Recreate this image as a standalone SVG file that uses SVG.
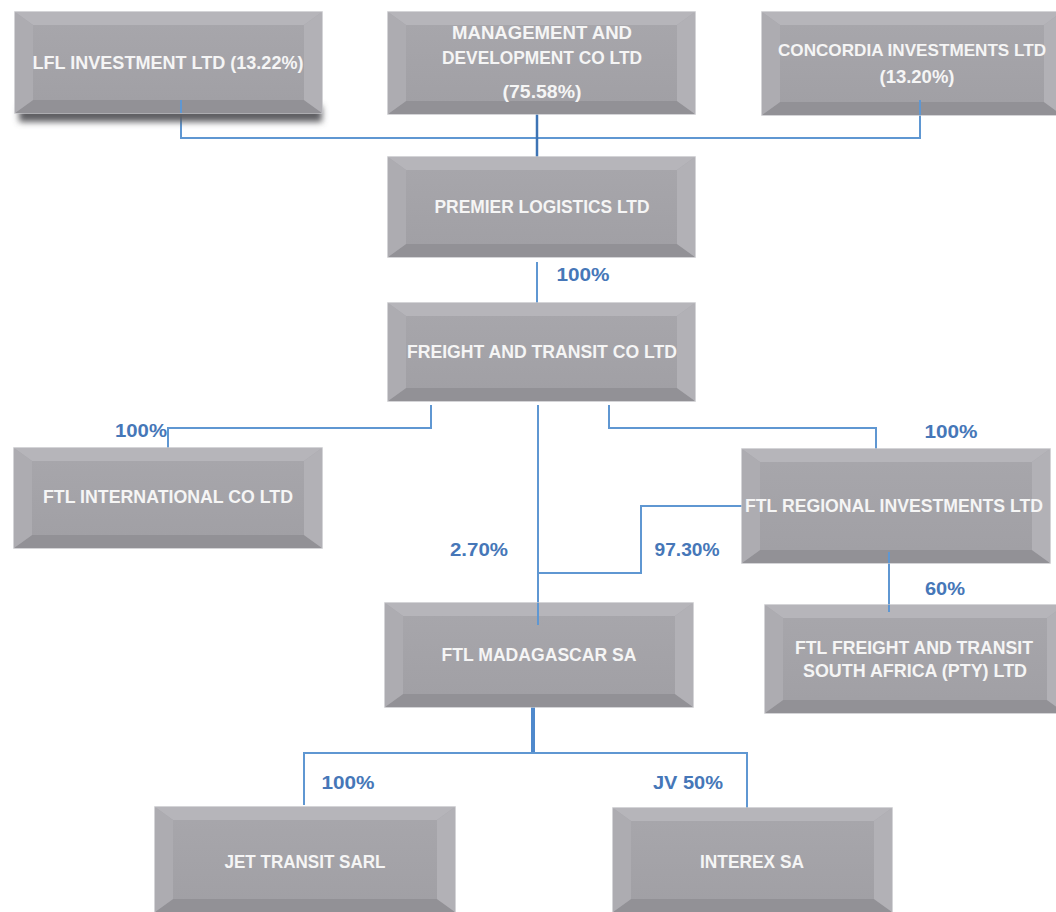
<svg xmlns="http://www.w3.org/2000/svg" width="1056" height="912" viewBox="0 0 1056 912">
<defs>
<filter id="blur" x="-10%" y="-50%" width="120%" height="200%"><feGaussianBlur stdDeviation="3"/></filter>
<linearGradient id="faceg" x1="0" y1="0" x2="0" y2="1">
<stop offset="0" stop-color="#a8a7ac"/>
<stop offset="1" stop-color="#a09fa4"/>
</linearGradient>
</defs>
<style>
.face{fill:url(#faceg);stroke:#c6c6ca;stroke-width:1.5}
.bt{fill:#b6b5ba}
.bl{fill:#adacb1}
.br{fill:#b2b1b6}
.bb{fill:#929196}
.txt{font-family:"Liberation Sans",Arial,sans-serif;font-weight:bold;font-size:18px;fill:#f5f5f5;text-anchor:middle}
.sm{font-size:17px}
.lbl{font-family:"Liberation Sans",Arial,sans-serif;font-weight:bold;font-size:18px;fill:#4677b8;text-anchor:middle}
.ln{fill:none;stroke:#5f97d2;stroke-width:2}
.lnd{fill:none;stroke:#3d74b5;stroke-width:2.5}
.lnt{fill:none;stroke:#4f89cc;stroke-width:4}
</style>
<rect width="1056" height="912" fill="#ffffff"/>

<g id="connectors">
<path class="ln" d="M181,105 V138 H921"/>
<path class="ln" d="M920,106 V138"/>
<path class="lnd" d="M537,114 V158"/>
<path class="ln" d="M537,262 V303"/>
<path class="ln" d="M431,405 V428 H168 V450"/>
<path class="ln" d="M538,405 V625"/>
<path class="ln" d="M609,405 V428 H876 V449"/>
<path class="ln" d="M742,506 H641 V573 H538"/>
<path class="ln" d="M889,552 V612"/>
<path class="lnt" d="M533,707 V753"/>
<path class="ln" d="M304,805 V753 H747 V810"/>
</g>

<g id="n-lfl">
<rect x="19" y="106" width="303" height="16" fill="#5f5e63" filter="url(#blur)"/>
<rect class="face" x="15" y="12" width="307" height="101"/>
<polygon class="bt" points="15,12 322,12 304,25 33,25"/>
<polygon class="bb" points="15,113 322,113 304,100 33,100"/>
<polygon class="bl" points="15,12 33,25 33,100 15,113"/>
<polygon class="br" points="322,12 304,25 304,100 322,113"/>
<path class="ln" d="M181,100 V113"/>
<text class="txt" x="168" y="69" textLength="271" lengthAdjust="spacingAndGlyphs">LFL INVESTMENT LTD (13.22%)</text>
</g>

<g id="n-mgmt">
<rect class="face" x="388" y="12" width="307" height="102"/>
<polygon class="bt" points="388,12 695,12 677,25 406,25"/>
<polygon class="bb" points="388,114 695,114 677,101 406,101"/>
<polygon class="bl" points="388,12 406,25 406,101 388,114"/>
<polygon class="br" points="695,12 677,25 677,101 695,114"/>
<text class="txt" x="542" y="39" textLength="180" lengthAdjust="spacingAndGlyphs">MANAGEMENT AND</text>
<text class="txt" x="542" y="64" textLength="200" lengthAdjust="spacingAndGlyphs">DEVELOPMENT CO LTD</text>
<text class="txt" x="542" y="98" textLength="79" lengthAdjust="spacingAndGlyphs">(75.58%)</text>
</g>

<g id="n-concordia">
<rect class="face" x="762" y="12" width="300" height="103"/>
<polygon class="bt" points="762,12 1062,12 1044,25 780,25"/>
<polygon class="bb" points="762,115 1062,115 1044,102 780,102"/>
<polygon class="bl" points="762,12 780,25 780,102 762,115"/>
<polygon class="br" points="1062,12 1044,25 1044,102 1062,115"/>
<path class="ln" d="M920,100 V115"/>
<text class="txt sm" x="912" y="56" textLength="268" lengthAdjust="spacingAndGlyphs">CONCORDIA INVESTMENTS LTD</text>
<text class="txt" x="917" y="83" textLength="75" lengthAdjust="spacingAndGlyphs">(13.20%)</text>
</g>

<g id="n-premier">
<rect class="face" x="388" y="157" width="307" height="100"/>
<polygon class="bt" points="388,157 695,157 677,170 406,170"/>
<polygon class="bb" points="388,257 695,257 677,244 406,244"/>
<polygon class="bl" points="388,157 406,170 406,244 388,257"/>
<polygon class="br" points="695,157 677,170 677,244 695,257"/>
<text class="txt" x="542" y="213" textLength="215" lengthAdjust="spacingAndGlyphs">PREMIER LOGISTICS LTD</text>
</g>

<g id="n-freight">
<rect class="face" x="388" y="303" width="307" height="98"/>
<polygon class="bt" points="388,303 695,303 677,316 406,316"/>
<polygon class="bb" points="388,401 695,401 677,388 406,388"/>
<polygon class="bl" points="388,303 406,316 406,388 388,401"/>
<polygon class="br" points="695,303 677,316 677,388 695,401"/>
<text class="txt" x="542" y="358" textLength="270" lengthAdjust="spacingAndGlyphs">FREIGHT AND TRANSIT CO LTD</text>
</g>

<g id="n-intl">
<rect class="face" x="14" y="448" width="308" height="100"/>
<polygon class="bt" points="14,448 322,448 304,461 32,461"/>
<polygon class="bb" points="14,548 322,548 304,535 32,535"/>
<polygon class="bl" points="14,448 32,461 32,535 14,548"/>
<polygon class="br" points="322,448 304,461 304,535 322,548"/>
<text class="txt" x="168" y="503" textLength="250" lengthAdjust="spacingAndGlyphs">FTL INTERNATIONAL CO LTD</text>
</g>

<g id="n-regional">
<rect class="face" x="742" y="449" width="308" height="114"/>
<polygon class="bt" points="742,449 1050,449 1032,462 760,462"/>
<polygon class="bb" points="742,563 1050,563 1032,550 760,550"/>
<polygon class="bl" points="742,449 760,462 760,550 742,563"/>
<polygon class="br" points="1050,449 1032,462 1032,550 1050,563"/>
<path class="ln" d="M889,552 V563"/>
<text class="txt" x="894" y="512" textLength="298" lengthAdjust="spacingAndGlyphs">FTL REGIONAL INVESTMENTS LTD</text>
</g>

<g id="n-madagascar">
<rect class="face" x="385" y="603" width="308" height="104"/>
<polygon class="bt" points="385,603 693,603 675,616 403,616"/>
<polygon class="bb" points="385,707 693,707 675,694 403,694"/>
<polygon class="bl" points="385,603 403,616 403,694 385,707"/>
<polygon class="br" points="693,603 675,616 675,694 693,707"/>
<path class="ln" d="M538,603 V625"/>
<text class="txt" x="539" y="661" textLength="195" lengthAdjust="spacingAndGlyphs">FTL MADAGASCAR SA</text>
</g>

<g id="n-southafrica">
<rect class="face" x="765" y="605" width="300" height="108"/>
<polygon class="bt" points="765,605 1065,605 1047,618 783,618"/>
<polygon class="bb" points="765,713 1065,713 1047,700 783,700"/>
<polygon class="bl" points="765,605 783,618 783,700 765,713"/>
<polygon class="br" points="1065,605 1047,618 1047,700 1065,713"/>
<path class="ln" d="M889,605 V612"/>
<text class="txt" x="914" y="654" textLength="238" lengthAdjust="spacingAndGlyphs">FTL FREIGHT AND TRANSIT</text>
<text class="txt" x="915" y="677" textLength="224" lengthAdjust="spacingAndGlyphs">SOUTH AFRICA (PTY) LTD</text>
</g>

<g id="n-jet">
<rect class="face" x="155" y="807" width="300" height="105"/>
<polygon class="bt" points="155,807 455,807 437,820 173,820"/>
<polygon class="bb" points="155,912 455,912 437,899 173,899"/>
<polygon class="bl" points="155,807 173,820 173,899 155,912"/>
<polygon class="br" points="455,807 437,820 437,899 455,912"/>
<text class="txt" x="305" y="868" textLength="161" lengthAdjust="spacingAndGlyphs">JET TRANSIT SARL</text>
</g>

<g id="n-interex">
<rect class="face" x="613" y="808" width="279" height="104"/>
<polygon class="bt" points="613,808 892,808 874,821 631,821"/>
<polygon class="bb" points="613,912 892,912 874,899 631,899"/>
<polygon class="bl" points="613,808 631,821 631,899 613,912"/>
<polygon class="br" points="892,808 874,821 874,899 892,912"/>
<text class="txt" x="752" y="868" textLength="104" lengthAdjust="spacingAndGlyphs">INTEREX SA</text>
</g>

<g id="labels">
<text class="lbl" x="583" y="281" textLength="53" lengthAdjust="spacingAndGlyphs">100%</text>
<text class="lbl" x="141" y="437" textLength="52" lengthAdjust="spacingAndGlyphs">100%</text>
<text class="lbl" x="951" y="438" textLength="53" lengthAdjust="spacingAndGlyphs">100%</text>
<text class="lbl" x="479" y="556" textLength="58" lengthAdjust="spacingAndGlyphs">2.70%</text>
<text class="lbl" x="687" y="556" textLength="65" lengthAdjust="spacingAndGlyphs">97.30%</text>
<text class="lbl" x="945" y="595" textLength="40" lengthAdjust="spacingAndGlyphs">60%</text>
<text class="lbl" x="348" y="789" textLength="53" lengthAdjust="spacingAndGlyphs">100%</text>
<text class="lbl" x="688" y="789" textLength="70" lengthAdjust="spacingAndGlyphs">JV 50%</text>
</g>
</svg>
